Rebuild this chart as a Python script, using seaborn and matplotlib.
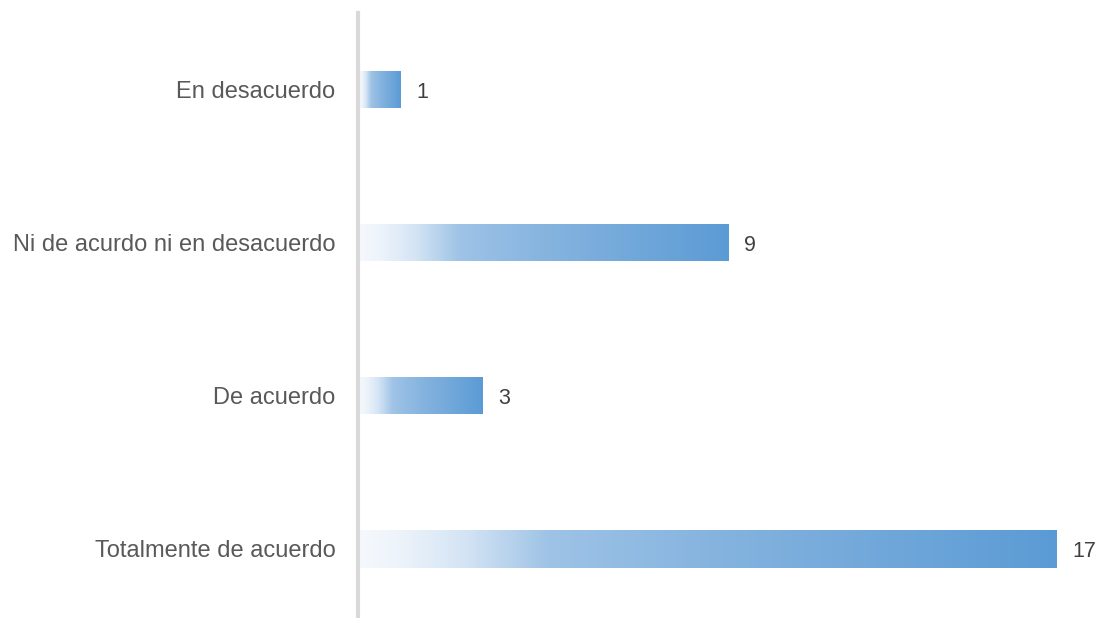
import numpy as np
import matplotlib
matplotlib.use("Agg")
import matplotlib.pyplot as plt
from matplotlib.colors import LinearSegmentedColormap
import seaborn as sns
import pandas as pd

categories = ["En desacuerdo", "Ni de acurdo ni en desacuerdo", "De acuerdo", "Totalmente de acuerdo"]
counts = [1, 9, 3, 17]

sns.set_theme(style="white")
plt.rcParams["font.family"] = ["Liberation Sans", "DejaVu Sans"]

W, H = 1103, 618
fig = plt.figure(figsize=(W / 100, H / 100), dpi=100)
ax = fig.add_axes([360 / W, 0, (1057 - 360) / W, (618 - 13) / H])

df = pd.DataFrame({"categoria": categories, "n": counts})
sns.barplot(data=df, x="n", y="categoria", orient="h", width=0.242,
            color="#5b9bd5", ax=ax)

# horizontal gradient fill (pale to blue) inside each bar
grad_cmap = LinearSegmentedColormap.from_list(
    "bar_grad",
    [(0.0, "#f5f8fc"), (0.05, "#eef4fb"), (0.15, "#d4e4f4"),
     (0.27, "#9ec3e6"), (0.5, "#86b4df"), (1.0, "#5b9bd5")])
grad = np.linspace(0, 1, 256).reshape(1, -1)
for patch in ax.patches:
    x0, y0 = patch.get_x(), patch.get_y()
    w, h = patch.get_width(), patch.get_height()
    img = ax.imshow(grad, cmap=grad_cmap, aspect="auto",
                    extent=(x0, x0 + w, y0 + h, y0), zorder=2,
                    interpolation="bilinear")
    img.set_clip_path(patch)
    patch.set_facecolor("none")
    patch.set_edgecolor("none")
    ax.text(x0 + w + 0.37, y0 + h / 2, f"{int(w)}", va="center_baseline", ha="left",
            fontsize=15.5, color="#404040", clip_on=False)
ax.set_xlim(0, 17)
ax.set_ylim(3.451, -0.503)

ax.set_xlabel("")
ax.set_ylabel("")
ax.set_xticks([])
ax.tick_params(axis="y", length=0, pad=16, labelsize=17, labelcolor="#595959")
for s in ["top", "right", "bottom"]:
    ax.spines[s].set_visible(False)
ax.spines["left"].set_color("#d9d9d9")
ax.spines["left"].set_linewidth(3)
ax.spines["left"].set_position(("outward", 1.8))

fig.savefig("out.png", dpi=100)
